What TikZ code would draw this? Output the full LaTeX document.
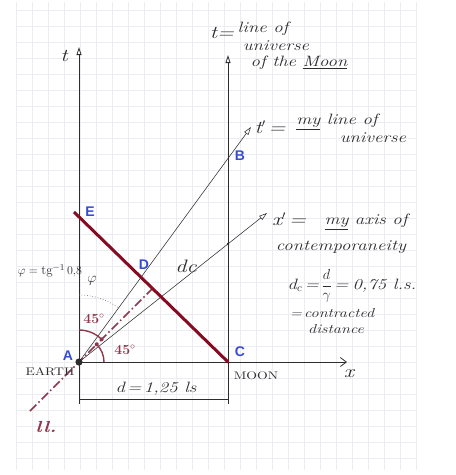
\documentclass[tikz,border=0pt]{standalone}
\usepackage{fontspec}
\newfontfamily\lblfont{Liberation Sans}
\newfontfamily\handfont[FakeStretch=1.25]{Latin Modern Roman}
\usetikzlibrary{arrows.meta}
\definecolor{ptblue}{RGB}{55,75,210}
\definecolor{redline}{RGB}{135,10,35}
\definecolor{llred}{RGB}{145,55,75}
\definecolor{gridc}{RGB}{234,238,242}
\definecolor{ink}{RGB}{45,45,45}
\begin{document}
\begin{tikzpicture}[x=1pt,y=-1pt,
  axisline/.style={ink, line width=0.8pt},
  openhead/.style={-{Triangle[open,length=8pt,width=5pt]}},
  worldline/.style={ink, line width=0.55pt, -{Triangle[open,length=8pt,width=5pt]}},
  ptlabel/.style={text=ptblue, font=\lblfont\bfseries\fontsize{14}{14}\selectfont, inner sep=0pt},
  hand/.style={text=ink, font=\handfont\itshape\fontsize{15}{16}\selectfont, inner sep=0pt},
  handbig/.style={text=ink, font=\handfont\itshape\fontsize{18}{18}\selectfont, inner sep=0pt},
  handsmall/.style={text=ink, font=\handfont\itshape\fontsize{13}{14}\selectfont, inner sep=0pt},
  caps/.style={text=ink, font=\handfont\fontsize{11}{12}\selectfont, inner sep=0pt},
  redlabel/.style={text=llred, font=\bfseries\fontsize{14}{14}\selectfont, inner sep=0pt},
  lldash/.style={llred, line width=1.6pt, dash pattern=on 9pt off 3pt on 1.5pt off 3pt},
  redarc/.style={llred, line width=1.4pt},
  reddot/.style={fill=llred, draw=none}
]
\useasboundingbox (0,0) rectangle (456,475);
% faint graph paper
\foreach \gx in {16,32,...,416} \draw[gridc, line width=0.4pt] (\gx,2) -- (\gx,470);
\foreach \gy in {10,26,...,470} \draw[gridc, line width=0.4pt] (16,\gy) -- (416,\gy);

% key points
\coordinate (A) at (79,362);
\coordinate (C) at (228,362);
\coordinate (E) at (74,212);
\coordinate (ttop) at (79,47);
\coordinate (tbot) at (79,404);
\coordinate (mtop) at (228,55);
\coordinate (mbot) at (228,404);
\coordinate (xend) at (347,362);
\coordinate (tpend) at (251,127);
\coordinate (xpend) at (267,213);
\coordinate (B) at (228,158.4);
\coordinate (K) at (228,244);
\coordinate (llA) at (30,411);
\coordinate (llB) at (152,289);
\coordinate (dA) at (79,399);
\coordinate (dC) at (228,399);
\coordinate (D) at (intersection of A--tpend and E--C);

% axes
\draw[axisline, openhead] (tbot) -- (ttop);
\draw[axisline, openhead] (mbot) -- (mtop);
\draw[axisline, -{Straight Barb[length=6pt,width=9pt]}] (A) -- (xend);
\draw[worldline] (A) -- (tpend);
\draw[worldline] (A) -- (xpend);
\fill[ink] (K) circle[radius=1.3];

% dimension line
\draw[ink, line width=0.7pt] (dA) -- (dC);
\draw[ink, line width=0.7pt] (79,393) -- (79,404) (228,393) -- (228,404);

% light line
\draw[lldash] (llA) -- (llB);

% angle arcs
\coordinate (phs) at (79,295);
\draw[gray, dotted, line width=0.7pt] (phs) arc[start angle=-90, end angle=-53.8, radius=67];
\coordinate (ua) at (79,330);
\draw[redarc] (ua) arc[start angle=-90, end angle=-45, radius=32];
\coordinate (la) at (104,362);
\draw[redarc] (la) arc[start angle=0, end angle=-45, radius=25];
\fill[reddot] (101.6,339.4) circle[radius=2];
\fill[reddot] (96.7,344.3) circle[radius=2];

% red segment E-C
\draw[redline, line width=3pt] (E) -- (C);
\fill[ink] (A) circle[radius=3.6];
\fill[redline] (C) circle[radius=1.5];

% point labels
\node[ptlabel] (lA) at (68,356) {A};
\node[ptlabel] (lB) at (240,156) {B};
\node[ptlabel] (lC) at (240,352) {C};
\node[ptlabel] (lD) at (144,265) {D};
\node[ptlabel] (lE) at (90,212) {E};

% axis labels
\node[handbig] (tl) at (64,56) {t};
\node[handbig] (xl) at (349,374) {x};
\node[caps] (earth) at (50,372) {EARTH};
\node[caps] (moon) at (256,376) {MOON};
\node[hand] (dl) at (156,389) {d\,=\,1,25 ls};

% Moon world line
\node[handbig] (t1) at (222,33) {t=};
\node[hand] (t2) at (263,29) {line of};
\node[hand] (t3) at (276,46) {universe};
\node[hand] (t4) at (299,63) {of the \underline{Moon}};

% my world line
\node[handbig] (tp1) at (270,127) {t$'$\,=};
\node[hand] (tp2) at (337,122) {\underline{my} line of};
\node[hand] (tp3) at (373,138) {universe};

% contemporaneity axis
\node[handbig] (xp1) at (289,219) {x$'$\,=};
\node[hand] (xp2) at (366,222) {\underline{my} axis of};
\node[hand] (xp3) at (341,247) {contemporaneity};
\node[hand] (dc1) at (352,286) {d$_c$\,=\,$\displaystyle\frac{d}{\gamma}$\,=\;0,75 l.s.};
\node[handsmall] (dc2) at (332,313) {=\,contracted};
\node[handsmall] (dc3) at (336,329) {distance};
\node[handbig] (dcl) at (186,266) {dc};

% angles
\node[handsmall] (phidef) at (50,271) {$\varphi = \mathrm{tg}^{-1}\,0{,}8$};
\node[hand] (phi) at (92,281) {$\varphi$};
\node[redlabel] (a45u) at (94,319) {45$^\circ$};
\node[redlabel] (a45l) at (125,350) {45$^\circ$};
\node[redlabel, font=\handfont\itshape\bfseries\fontsize{16}{16}\selectfont] (ll) at (46,427) {ll.};
\end{tikzpicture}
\end{document}
